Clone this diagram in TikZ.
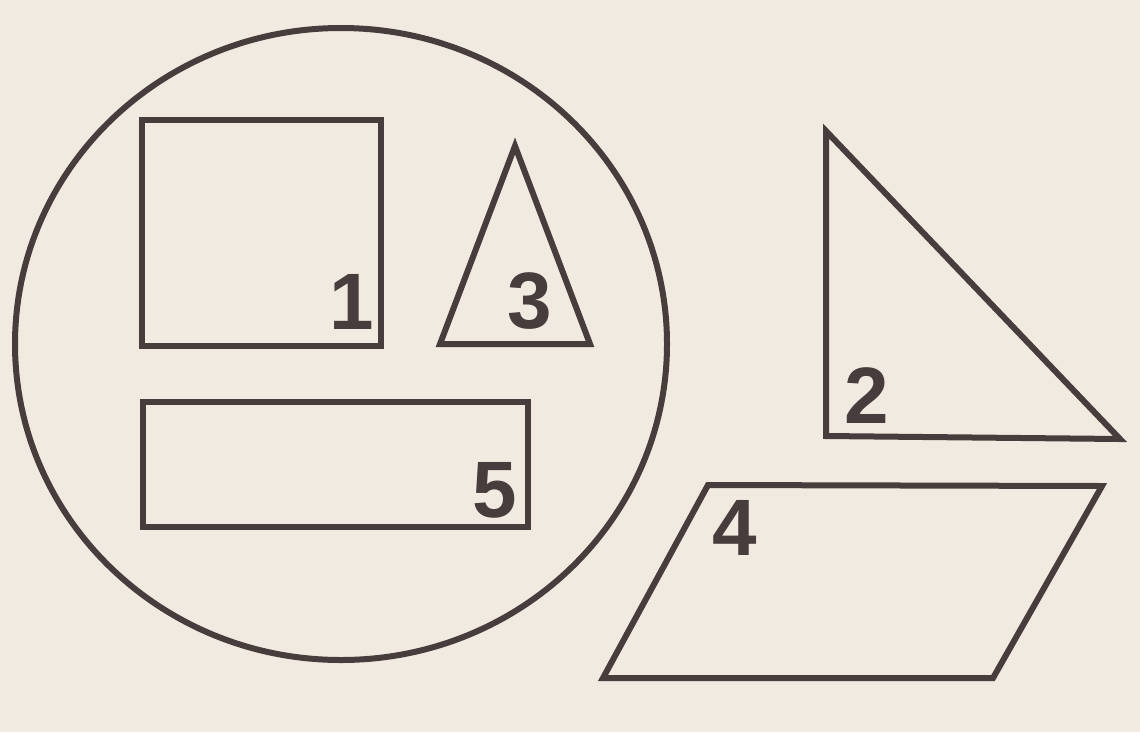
\documentclass[tikz,border=0pt]{standalone}
\usepackage{fontspec}
\usetikzlibrary{shapes.geometric}
\setmainfont{Liberation Sans}
\definecolor{paper}{HTML}{F1EAE0}
\definecolor{ink}{HTML}{463D3C}
\tikzset{
  shapeline/.style={draw=ink, line width=6pt, line join=miter},
  numlabel/.style={text=ink, inner sep=0pt, font=\fontsize{80}{80}\selectfont\bfseries}
}
\begin{document}
\begin{tikzpicture}[x=1pt,y=-1pt]
\fill[paper] (0,0) rectangle (1140,732);
\useasboundingbox (0,0) rectangle (1140,732);
% circle
\node[shapeline, ellipse, minimum width=652pt, minimum height=632pt, inner sep=0pt] (circ) at (341,344) {};
% square 1
\coordinate (s1a) at (142,120);
\coordinate (s1b) at (381,346);
\draw[shapeline] (s1a) rectangle (s1b);
\node[numlabel] (n1) at (352,302) {1};
% triangle 3
\coordinate (t3a) at (515,146);
\coordinate (t3b) at (440,344);
\coordinate (t3c) at (590,344);
\draw[shapeline] (t3a) -- (t3b) -- (t3c) -- cycle;
\node[numlabel] (n3) at (530,301) {3};
% rectangle 5
\coordinate (r5a) at (143,402);
\coordinate (r5b) at (528,527);
\draw[shapeline] (r5a) rectangle (r5b);
\node[numlabel] (n5) at (495,490) {5};
% triangle 2
\coordinate (t2a) at (826,131);
\coordinate (t2b) at (826,436);
\coordinate (t2c) at (1120,439);
\draw[shapeline] (t2a) -- (t2b) -- (t2c) -- cycle;
\node[numlabel] (n2) at (867,396) {2};
% parallelogram 4
\coordinate (p4a) at (708,485);
\coordinate (p4b) at (1102,486);
\coordinate (p4c) at (993,678);
\coordinate (p4d) at (603,678);
\draw[shapeline] (p4a) -- (p4b) -- (p4c) -- (p4d) -- cycle;
\node[numlabel] (n4) at (735,528) {4};
\end{tikzpicture}
\end{document}
